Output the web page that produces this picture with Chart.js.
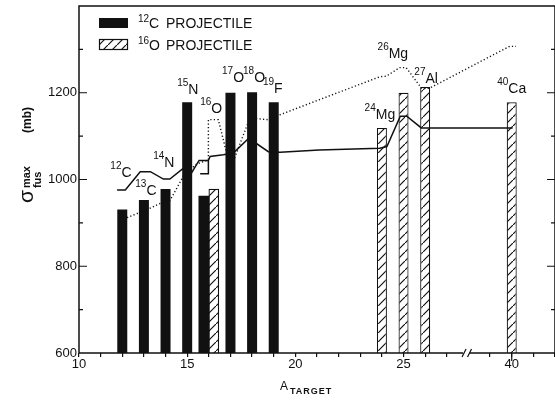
<!DOCTYPE html>
<html>
<head>
<meta charset="utf-8">
<script src="https://cdn.jsdelivr.net/npm/chart.js@4"></script>
<style>
  html, body { margin: 0; padding: 0; background: #fff; }
</style>
</head>
<body>
<canvas id="myChart" width="555" height="402"></canvas>
<script>
// sigma_fus max (mb), by target mass number
var c12Targets = [12, 13, 14, 15, 16, 17, 18, 19];
var c12Sigma = [931, 953, 978, 1178, 962, 1200, 1201, 1178];

var o16Targets = [16, 24, 25, 26, 40];
var o16Sigma = [978, 1119, 1200, 1213, 1178];

// solid curve (null = pen lifted)
var solidA = [11.76, 12.14, 12.83, 13.3, 13.9, 14.2, 14.8, 15.2, 15.55, 15.98, 15.98, 15.6, 15.6,
  15.98, 16.06, 16.67, 17.13, 17.85, 18.75, 19.3, 21.1, 23.9, 24.23, 24.85, 25.15, 25.82, 40.04];
var solidSigma = [976, 976, 1018, 1018, 1001, 1001, 1025, 1015, 1044, 1044, 1013, 1013, null,
  1044, 1053, 1057, 1061, 1095, 1064, 1063, 1068, 1072, 1076, 1146, 1146, 1119, 1119];

// dotted curve
var dottedA = [12.22, 13.2, 13.76, 14.2, 14.87, 15.45, 15.98, 15.98, 16.44, 17.0, 17.9, 18.7,
  23.9, 24.2, 24.82, 25.12, 25.82, 26.18, 39.9, 40.2];
var dottedSigma = [912, 932, 945, 951, 1012, 1036, 1045, 1138, 1138, 1025, 1142, 1138,
  1237, 1238, 1258, 1258, 1211, 1210, 1307, 1307];

var yTicks = [600, 800, 1000, 1200];

var ink = '#111';
var font = '"Liberation Sans", Arial, sans-serif';

// the axis is broken after 28: A = 40 sits where 30 would be
function axisPos(a) {
  return a > 28 ? a - 10 : a;
}

function points(xs, ys) {
  var out = [];
  for (var i = 0; i < xs.length; i++) {
    out.push({ x: axisPos(xs[i]), y: ys[i] });
  }
  return out;
}

// targets measured with both projectiles get bars side by side
var shared = c12Targets.filter(function (a) { return o16Targets.indexOf(a) !== -1; });

function bars(targets, sigma, wantShared) {
  var out = [];
  for (var i = 0; i < targets.length; i++) {
    if ((shared.indexOf(targets[i]) !== -1) === wantShared) {
      out.push({ x: axisPos(targets[i]), y: sigma[i] });
    }
  }
  return out;
}

function makeHatch() {
  var c = document.createElement('canvas');
  c.width = 9; c.height = 9;
  var g = c.getContext('2d');
  g.fillStyle = '#fff';
  g.fillRect(0, 0, 9, 9);
  g.strokeStyle = ink;
  g.lineWidth = 1.2;
  g.beginPath();
  g.moveTo(-1, 10); g.lineTo(10, -1);
  g.moveTo(-2, 1); g.lineTo(1, -2);
  g.moveTo(8, 11); g.lineTo(11, 8);
  g.stroke();
  return g.createPattern(c, 'repeat');
}
var hatch = makeHatch();

// mass number raised, then the symbol
function iso(ctx, mass, sym, x, y, big, small, rise) {
  ctx.font = small + 'px ' + font;
  ctx.fillText(mass, x, y - rise);
  var w = ctx.measureText(mass).width;
  ctx.font = big + 'px ' + font;
  ctx.fillText(sym, x + w, y);
  return x + w + ctx.measureText(sym).width;
}

// label spots, in axis units
var isoLabels = [
  ['12', 'C', 11.45, 1006], ['13', 'C', 12.6, 965], ['14', 'N', 13.43, 1029],
  ['15', 'N', 14.54, 1196], ['16', 'O', 15.6, 1154], ['17', 'O', 16.61, 1224],
  ['18', 'O', 17.58, 1224], ['19', 'F', 18.5, 1200], ['24', 'Mg', 23.2, 1140],
  ['26', 'Mg', 23.8, 1279], ['27', 'Al', 25.5, 1223], ['40', 'Ca', 29.33, 1200]
];

var decor = {
  id: 'decor',
  afterDraw: function (chart) {
    var ctx = chart.ctx;
    var a = chart.chartArea;
    var xs = chart.scales.x;
    var ys = chart.scales.y;
    ctx.save();
    ctx.strokeStyle = ink;
    ctx.fillStyle = ink;
    ctx.lineWidth = 1.5;

    // frame, bottom edge broken
    var b1 = xs.getPixelForValue(27.75);
    var b2 = xs.getPixelForValue(28.05);
    ctx.beginPath();
    ctx.moveTo(b1, a.bottom); ctx.lineTo(a.left, a.bottom);
    ctx.lineTo(a.left, a.top); ctx.lineTo(a.right, a.top);
    ctx.lineTo(a.right, a.bottom); ctx.lineTo(b2, a.bottom);
    ctx.stroke();
    ctx.lineWidth = 1.2;
    ctx.beginPath();
    ctx.moveTo(b1 - 1, a.bottom + 4); ctx.lineTo(b1 + 3, a.bottom - 4);
    ctx.moveTo(b2 - 2, a.bottom + 4); ctx.lineTo(b2 + 2, a.bottom - 4);
    ctx.stroke();

    // longer tick under the 40
    var x40 = xs.getPixelForValue(axisPos(40));
    ctx.beginPath();
    ctx.moveTo(x40, a.bottom); ctx.lineTo(x40, a.bottom + 8);
    ctx.stroke();

    // inward y ticks, both sides
    for (var v = 700; v < 1400; v += 100) {
      var py = ys.getPixelForValue(v);
      var len = v % 200 === 0 ? 8 : 4;
      ctx.beginPath();
      ctx.moveTo(a.left, py); ctx.lineTo(a.left + len, py);
      ctx.moveTo(a.right, py); ctx.lineTo(a.right - len, py);
      ctx.stroke();
    }

    // nuclide labels
    ctx.textAlign = 'left';
    ctx.textBaseline = 'alphabetic';
    isoLabels.forEach(function (l) {
      iso(ctx, l[0], l[1], xs.getPixelForValue(l[2]), ys.getPixelForValue(l[3]), 14, 10, 8);
    });

    // legend
    ctx.fillRect(99, 18, 29, 10);
    ctx.fillStyle = hatch;
    ctx.fillRect(99, 39, 29, 11);
    ctx.lineWidth = 1.2;
    ctx.strokeRect(99.5, 39.5, 28, 10);
    ctx.fillStyle = ink;
    iso(ctx, '12', 'C', 138, 28, 14, 10, 6);
    iso(ctx, '16', 'O', 138, 50, 14, 10, 6);
    ctx.font = '14px ' + font;
    ctx.fillText('PROJECTILE', 166, 28);
    ctx.fillText('PROJECTILE', 166, 50);

    // x title
    ctx.font = '12px ' + font;
    ctx.fillText('A', 280, 390);
    ctx.font = 'bold 9px ' + font;
    ctx.letterSpacing = '1px';
    ctx.fillText('TARGET', 290, 394);
    ctx.letterSpacing = '0px';

    // y title
    ctx.translate(33, 203);
    ctx.rotate(-Math.PI / 2);
    ctx.font = '21px ' + font;
    ctx.fillText('\u03c3', 0, 0);
    var w = ctx.measureText('\u03c3').width + 2;
    ctx.font = 'bold 11px ' + font;
    ctx.fillText('max', w, -3);
    ctx.fillText('fus', w, 8);
    ctx.font = 'bold 12px ' + font;
    ctx.fillText('(mb)', 70, -2);
    ctx.restore();
  }
};

Chart.defaults.font.family = font;
Chart.defaults.color = ink;

const ctx = document.getElementById('myChart');

new Chart(ctx, {
  type: 'bar',
  data: {
    datasets: [
      {
        type: 'line',
        label: 'solid',
        data: points(solidA, solidSigma),
        borderColor: ink,
        borderWidth: 1.5,
        pointRadius: 0,
        tension: 0,
        spanGaps: false,
        order: 0
      },
      {
        type: 'line',
        label: 'dotted',
        data: points(dottedA, dottedSigma),
        borderColor: ink,
        borderWidth: 1.4,
        borderDash: [1.2, 2.3],
        pointRadius: 0,
        tension: 0,
        order: 0
      },
      {
        label: '12C projectile',
        data: bars(c12Targets, c12Sigma, false),
        backgroundColor: ink,
        grouped: false,
        maxBarThickness: 10,
        order: 1
      },
      {
        label: '16O projectile',
        data: bars(o16Targets, o16Sigma, false),
        backgroundColor: hatch,
        borderColor: ink,
        borderWidth: 1.2,
        grouped: false,
        maxBarThickness: 10,
        order: 1
      },
      {
        label: '12C projectile (pair)',
        data: bars(c12Targets, c12Sigma, true),
        backgroundColor: ink,
        barThickness: 10,
        maxBarThickness: 10,
        order: 1
      },
      {
        label: '16O projectile (pair)',
        data: bars(o16Targets, o16Sigma, true),
        backgroundColor: hatch,
        borderColor: ink,
        borderWidth: 1.2,
        barThickness: 10,
        maxBarThickness: 10,
        order: 1
      }
    ]
  },
  options: {
    responsive: false,
    animation: false,
    devicePixelRatio: 1,
    layout: { padding: { top: 6, right: 0, left: 0, bottom: 0 } },
    plugins: {
      legend: { display: false },
      tooltip: { enabled: false }
    },
    scales: {
      x: {
        type: 'linear',
        min: 10,
        max: 32,
        offset: false,
        border: { display: false },
        grid: {
          offset: false,
          drawOnChartArea: false,
          drawTicks: true,
          tickLength: 4,
          lineWidth: 1.2,
          color: function (c) {
            return c.tick && c.tick.value === 28 ? 'rgba(0,0,0,0)' : ink;
          }
        },
        ticks: {
          stepSize: 1,
          autoSkip: false,
          maxRotation: 0,
          padding: 0,
          font: { size: 13 },
          callback: function (v) {
            var a = v > 28 ? v + 10 : v;
            return a % 5 === 0 ? String(a) : '';
          }
        },
        afterFit: function (s) {
          s.height = 49;
          s.paddingLeft = 0;
          s.paddingRight = 0;
        }
      },
      y: {
        min: 600,
        max: 1400,
        border: { display: false },
        grid: { display: false, drawTicks: false },
        ticks: {
          stepSize: 100,
          autoSkip: false,
          padding: 2,
          font: { size: 13 },
          callback: function (v) {
            return yTicks.indexOf(v) !== -1 ? String(v) : '';
          }
        },
        afterFit: function (s) {
          s.width = 79;
          s.paddingTop = 0;
          s.paddingBottom = 0;
        }
      }
    }
  },
  plugins: [decor]
});
</script>
</body>
</html>
